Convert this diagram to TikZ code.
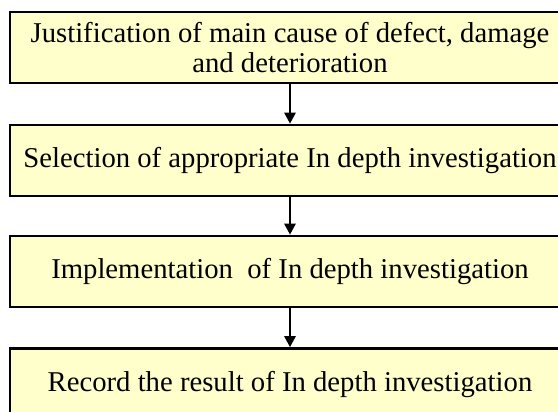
\documentclass[tikz,border=0pt]{standalone}
\usepackage{fontspec}
\setmainfont{Liberation Serif}
\usetikzlibrary{arrows.meta}
\definecolor{boxfill}{RGB}{255,255,204}
\tikzset{
  stepbox/.style={draw=black, line width=2.6pt, fill=boxfill, rectangle,
    minimum width=560pt, minimum height=71pt, inner sep=0pt,
    align=center, font=\fontsize{28.7pt}{29.5pt}\selectfont},
  flow/.style={line width=2.6pt, -{Triangle[length=11pt,width=11pt]}}
}
\begin{document}
\begin{tikzpicture}[x=1pt,y=1pt]
  \useasboundingbox (0,0) rectangle (558,-412);
  \clip (0,0) rectangle (558,-412);
  \node[stepbox] (s1) at (290,-47.5) {Justification of main cause of defect, damage\\and deterioration};
  \node[stepbox] (s2) at (290,-160.5) {Selection of appropriate In depth investigation};
  \node[stepbox] (s3) at (290,-271.5) {Implementation\hspace{0.25em} of In depth investigation};
  \node[stepbox] (s4) at (290,-384) {Record the result of In depth investigation};
  \draw[flow] (s1.south) -- (s2.north);
  \draw[flow] (s2.south) -- (s3.north);
  \draw[flow] (s3.south) -- (s4.north);
\end{tikzpicture}
\end{document}
